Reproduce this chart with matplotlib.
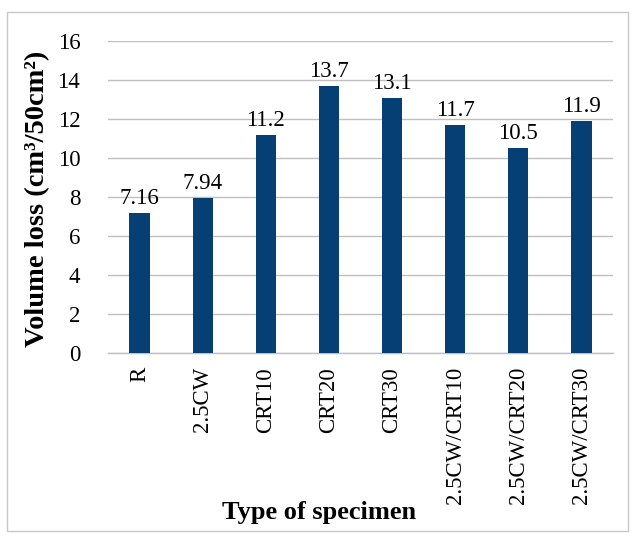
import matplotlib
matplotlib.use("Agg")
import matplotlib.pyplot as plt
from matplotlib.patches import Rectangle

categories = ["R", "2.5CW", "CRT10", "CRT20", "CRT30", "2.5CW/CRT10", "2.5CW/CRT20", "2.5CW/CRT30"]
values = [7.16, 7.94, 11.2, 13.7, 13.1, 11.7, 10.5, 11.9]
labels = ["7.16", "7.94", "11.2", "13.7", "13.1", "11.7", "10.5", "11.9"]
yticks = [0, 2, 4, 6, 8, 10, 12, 14, 16]

plt.rcParams['font.family'] = ['Liberation Serif', 'DejaVu Serif']

fig = plt.figure(figsize=(6.35, 5.37), dpi=100)
W, H = 635, 537
ax = fig.add_axes([108 / W, 1 - 353 / H, (613 - 108) / W, (353 - 41) / H])

x = list(range(len(categories)))
ax.bar(x, values, width=0.32, color='#063F73', zorder=3)
for xi, v, lab in zip(x, values, labels):
    ax.text(xi, v + 0.2, lab, ha='center', va='bottom', fontsize=16.5, color='black', zorder=4)

ax.set_ylim(0, 16)
ax.set_xlim(-0.5, len(categories) - 0.5)
ax.set_yticks(yticks)
ax.set_yticklabels([str(t) for t in yticks], fontsize=16.5)
ax.set_xticks(x)
ax.set_xticklabels(categories, rotation=90, fontsize=16.5)
ax.tick_params(axis='y', length=0, pad=20)
ax.tick_params(axis='x', length=0, pad=10)
ax.grid(axis='y', color='#BFBFBF', linewidth=1.0, zorder=0)
for s in ['top', 'right', 'left']:
    ax.spines[s].set_visible(False)
ax.spines['bottom'].set_color('#BFBFBF')
ax.spines['bottom'].set_linewidth(1.0)

fig.text(38 / W, 1 - 199 / H, "Volume loss (cm³/50cm²)", rotation=90, ha='center', va='center',
         fontsize=20.5, fontweight='bold')
fig.text(319 / W, 1 - 513 / H, "Type of specimen", ha='center', va='center', fontsize=19, fontweight='bold')

fig.patches.append(Rectangle((7 / W, 1 - 531 / H), (628 - 7) / W, (531 - 12) / H,
                             transform=fig.transFigure, fill=False, edgecolor='#C8C8C8', linewidth=1.0))

fig.savefig("out.png", dpi=100)
